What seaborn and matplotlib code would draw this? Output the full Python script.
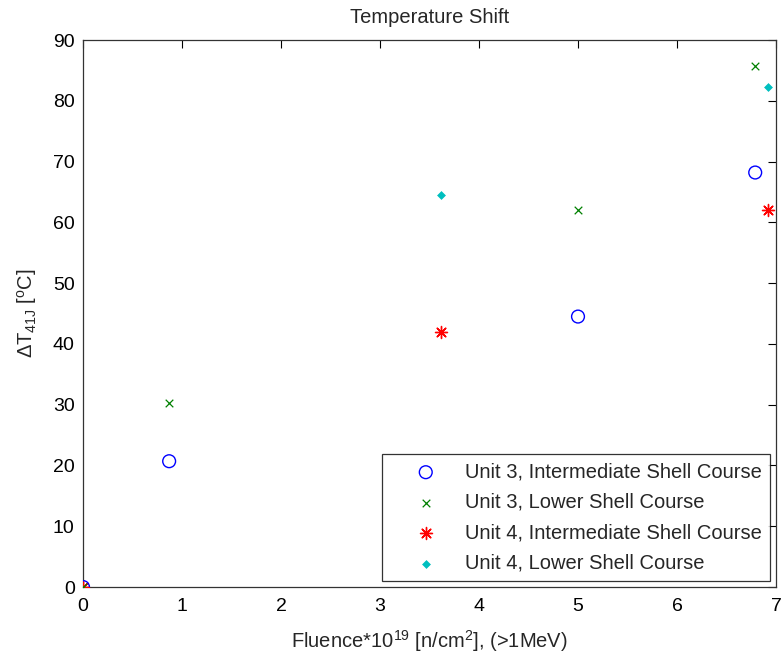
import matplotlib
matplotlib.use("Agg")
import matplotlib.pyplot as plt
import seaborn as sns
import pandas as pd

sns.set_theme(style="white")
plt.rcParams['font.family'] = ['Liberation Sans', 'DejaVu Sans']
plt.rcParams['mathtext.fontset'] = 'custom'
plt.rcParams['mathtext.rm'] = 'Liberation Sans'
plt.rcParams['mathtext.it'] = 'Liberation Sans'

series_names = ["Unit 3, Intermediate Shell Course",
                "Unit 3, Lower Shell Course",
                "Unit 4, Intermediate Shell Course",
                "Unit 4, Lower Shell Course"]
u3_int_x = [0.0, 0.87, 5.0, 6.79]
u3_int_y = [0.0, 20.7, 44.5, 68.2]
u3_low_x = [0.0, 0.87, 5.0, 6.79]
u3_low_y = [0.0, 30.3, 62.0, 85.8]
u4_int_x = [0.0, 3.62, 6.92]
u4_int_y = [0.0, 42.0, 62.0]
u4_low_x = [3.62, 6.92]
u4_low_y = [64.5, 82.3]

xticks = [0, 1, 2, 3, 4, 5, 6, 7]
yticks = [0, 10, 20, 30, 40, 50, 60, 70, 80, 90]

fig = plt.figure(figsize=(7.81, 6.54), dpi=100)
ax = fig.add_axes([0.1063, 0.1024, 0.8873, 0.8364])

df1 = pd.DataFrame({"x": u3_int_x, "y": u3_int_y})
df2 = pd.DataFrame({"x": u3_low_x, "y": u3_low_y})
df3 = pd.DataFrame({"x": u4_int_x, "y": u4_int_y})
df4 = pd.DataFrame({"x": u4_low_x, "y": u4_low_y})

sns.scatterplot(data=df3, x="x", y="y", ax=ax, marker=(8, 2, 0), s=75,
                color="#ff0000", linewidth=1.0, label=series_names[2], zorder=3)
sns.scatterplot(data=df2, x="x", y="y", ax=ax, marker="x", s=30,
                color="#008000", linewidth=0.9, label=series_names[1], zorder=3)
sns.scatterplot(data=df1, x="x", y="y", ax=ax, marker="o", s=85,
                facecolors="none", edgecolor="#0000ff", linewidth=1.0,
                label=series_names[0], zorder=4)
sns.scatterplot(data=df4, x="x", y="y", ax=ax, marker="D", s=16,
                color="#00bfbf", edgecolor="#00bfbf", linewidth=0.5,
                label=series_names[3], zorder=3)

ax.set_xlim(0, 7)
ax.set_ylim(0, 90)
ax.set_xticks(xticks)
ax.set_yticks(yticks)
ax.tick_params(direction="in", top=True, right=True, length=6, width=0.8,
               labelsize=14, colors="black")
ax.tick_params(axis="x", pad=8)
ax.tick_params(axis="y", pad=6)
for sp in ax.spines.values():
    sp.set_color("#333333")
    sp.set_linewidth(0.9)

ax.set_title("Temperature Shift", fontsize=14.5, pad=12)
ax.set_xlabel(r"Fluence*10$^{19}$ [n/cm$^{2}$], (>1MeV)", fontsize=14.5, labelpad=9)
ax.set_ylabel(r"$\Delta$T$_{41J}$ [$^{o}$C]", fontsize=14.5, labelpad=10)

handles, labels = ax.get_legend_handles_labels()
order = [labels.index(n) for n in series_names]
leg = ax.legend([handles[i] for i in order], [labels[i] for i in order],
                loc="lower right", fontsize=14.5, frameon=True, fancybox=False,
                edgecolor="black", borderpad=0.4, labelspacing=0.57,
                handlelength=3.5, handletextpad=0.2, borderaxespad=0.3)
leg.get_frame().set_linewidth(0.9)

fig.savefig("out.png", dpi=100)
